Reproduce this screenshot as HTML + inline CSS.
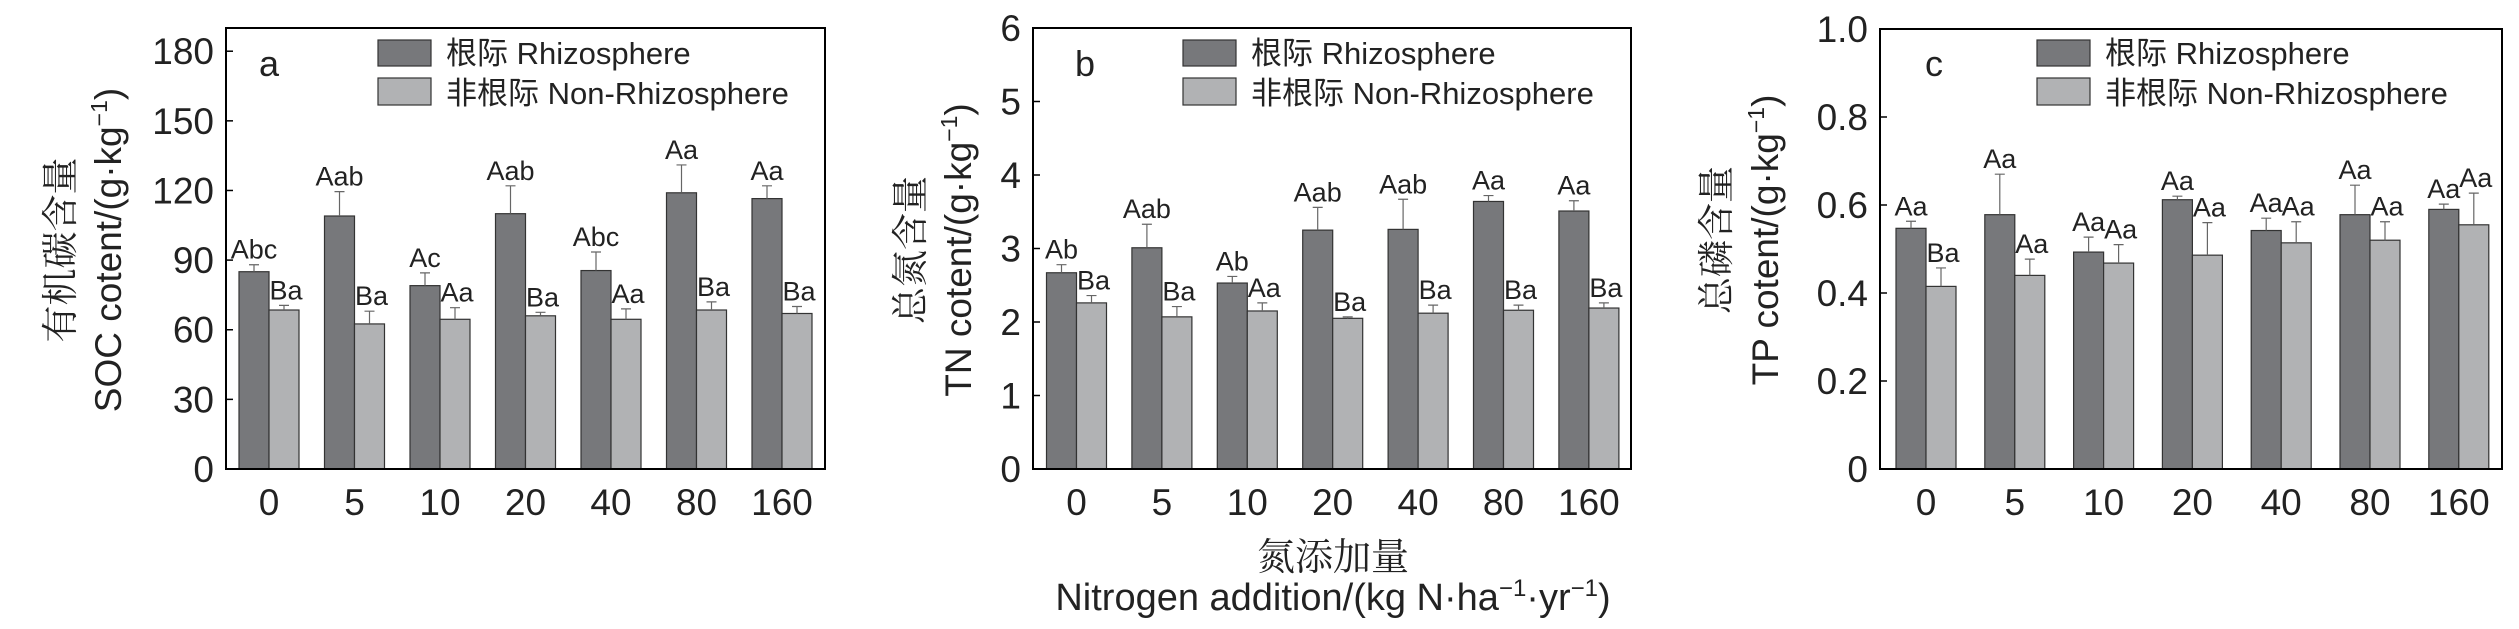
<!DOCTYPE html>
<html><head><meta charset="utf-8"><style>
html,body{margin:0;padding:0;background:#fff;}
svg{display:block;font-family:"Liberation Sans","Noto Sans CJK SC",sans-serif;}
</style></head><body>
<svg id="chart" width="2519" height="629" viewBox="0 0 2519 629" xmlns="http://www.w3.org/2000/svg"></svg>
<script>
const categories = ["0","5","10","20","40","80","160"];
const socRhizo = [85, 109, 79, 110, 85.5, 119, 116.5];
const socRhizoErr = [3, 10.5, 5.5, 12, 8, 12, 5.5];
const socNon = [68.5, 62.5, 64.5, 66, 64.5, 68.5, 67];
const socNonErr = [2, 5.5, 5, 1.5, 4.5, 3.5, 3];
const socRhizoLab = ["Abc","Aab","Ac","Aab","Abc","Aa","Aa"];
const socNonLab = ["Ba","Ba","Aa","Ba","Aa","Ba","Ba"];
const socTicks = ["0","30","60","90","120","150","180"];
const tnRhizo = [2.67, 3.01, 2.53, 3.25, 3.26, 3.64, 3.51];
const tnRhizoErr = [0.11, 0.32, 0.09, 0.31, 0.41, 0.08, 0.14];
const tnNon = [2.26, 2.07, 2.15, 2.05, 2.12, 2.16, 2.19];
const tnNonErr = [0.1, 0.14, 0.11, 0.02, 0.11, 0.07, 0.07];
const tnRhizoLab = ["Ab","Aab","Ab","Aab","Aab","Aa","Aa"];
const tnNonLab = ["Ba","Ba","Aa","Ba","Ba","Ba","Ba"];
const tnTicks = ["0","1","2","3","4","5","6"];
const tpRhizo = [0.547, 0.578, 0.493, 0.612, 0.542, 0.578, 0.59];
const tpRhizoErr = [0.016, 0.092, 0.034, 0.008, 0.028, 0.067, 0.012];
const tpNon = [0.415, 0.44, 0.468, 0.486, 0.514, 0.52, 0.555];
const tpNonErr = [0.042, 0.037, 0.042, 0.074, 0.048, 0.042, 0.072];
const tpRhizoLab = ["Aa","Aa","Aa","Aa","Aa","Aa","Aa"];
const tpNonLab = ["Ba","Aa","Aa","Aa","Aa","Aa","Aa"];
const tpTicks = ["0","0.2","0.4","0.6","0.8","1.0"];

const NS = "http://www.w3.org/2000/svg";
const svg = document.getElementById("chart");
function mk(tag, attrs, parent, text) {
  const e = document.createElementNS(NS, tag);
  for (const k in attrs) e.setAttribute(k, attrs[k]);
  if (text !== undefined) e.textContent = text;
  (parent || svg).appendChild(e);
  return e;
}

const panels = [
  {key:"soc", letter:"a", left:226, right:825, top:28, bottom:469, ymax:190, tickStep:30, first:269, step:85.5,
   r:socRhizo, re:socRhizoErr, n:socNon, ne:socNonErr, rl:socRhizoLab, nl:socNonLab, ticks:socTicks,
   cn:"有机碳含量", en:"SOC cotent/(g·kg", cnX:60, enX:108, legX:378},
  {key:"tn", letter:"b", left:1033, right:1631, top:28, bottom:469, ymax:6, tickStep:1, first:1076.5, step:85.4,
   r:tnRhizo, re:tnRhizoErr, n:tnNon, ne:tnNonErr, rl:tnRhizoLab, nl:tnNonLab, ticks:tnTicks,
   cn:"总氮含量", en:"TN cotent/(g·kg", cnX:910, enX:958, legX:1183},
  {key:"tp", letter:"c", left:1880, right:2502, top:29, bottom:469, ymax:1.0, tickStep:0.2, first:1926, step:88.8,
   r:tpRhizo, re:tpRhizoErr, n:tpNon, ne:tpNonErr, rl:tpRhizoLab, nl:tpNonLab, ticks:tpTicks,
   cn:"总磷含量", en:"TP cotent/(g·kg", cnX:1716, enX:1765, legX:2037}
];

const BW = 30;
panels.forEach(p => {
  const g = mk("g", {});
  
  
  const y = v => p.bottom - v / p.ymax * (p.bottom - p.top);
  const xc = i => p.first + i * p.step;

  p.ticks.forEach((t, i) => {
    const v = i * p.tickStep;
    const yy = y(v);
    const tk = mk("line", {x1:p.left, x2:p.left+7, y1:yy, y2:yy, stroke:"#000", "stroke-width":1.5}, g);
    
    
    const tl = mk("text", {x:p.left-12, y:yy+13, "text-anchor":"end", "font-size":37, fill:"#222"}, g, t);
    
    
  });

  categories.forEach((c, i) => {
    const cx = xc(i);
    const b1 = mk("rect", {x:cx-BW, y:y(p.r[i]), width:BW, height:p.bottom-y(p.r[i]), fill:"#77787b", stroke:"#333", "stroke-width":1.2}, g);
    
    
    const b2 = mk("rect", {x:cx, y:y(p.n[i]), width:BW, height:p.bottom-y(p.n[i]), fill:"#b1b2b4", stroke:"#333", "stroke-width":1.2}, g);
    
    
    [[cx-BW/2, p.r[i], p.re[i]], [cx+BW/2, p.n[i], p.ne[i]]].forEach(([ex, v, e]) => {
      const el = mk("path", {d:`M${ex},${y(v)}V${y(v+e)}M${ex-5},${y(v+e)}H${ex+5}`, stroke:"#666", "stroke-width":1.2, fill:"none"}, g);
      
      
    });
    const l1 = mk("text", {x:cx-BW/2, y:y(p.r[i]+p.re[i])-6, "text-anchor":"middle", "font-size":27, fill:"#222"}, g, p.rl[i]);
    
    
    const l2 = mk("text", {x:cx+BW/2+2, y:y(p.n[i]+p.ne[i])-6, "text-anchor":"middle", "font-size":27, fill:"#222"}, g, p.nl[i]);
    
    
    const xl = mk("text", {x:cx, y:515, "text-anchor":"middle", "font-size":37, fill:"#222"}, g, c);
    
    
  });

  const frame = mk("rect", {x:p.left, y:p.top, width:p.right-p.left, height:p.bottom-p.top, fill:"none", stroke:"#000", "stroke-width":2}, g);
  
  

  const lt = mk("text", {x:p.left + (p.key==="soc"?33:p.key==="tn"?42:45), y:76, "font-size":36, fill:"#222"}, g, p.letter);
  
  

  const lg = mk("g", {}, g);
  
  
  const s1 = mk("rect", {x:p.legX, y:40, width:53, height:26, fill:"#77787b", stroke:"#333", "stroke-width":1.2}, lg);
  
  
  const s2 = mk("rect", {x:p.legX, y:78, width:53, height:27, fill:"#b1b2b4", stroke:"#333", "stroke-width":1.2}, lg);
  
  
  const t1 = mk("text", {x:p.legX+68, y:64, "font-size":31, fill:"#222"}, lg, "根际 Rhizosphere");
  
  
  const t2 = mk("text", {x:p.legX+68, y:104, "font-size":31, fill:"#222"}, lg, "非根际 Non-Rhizosphere");
  
  

  const yc = p.key==="tp" ? 240 : 250;
  const cnT = mk("text", {x:0, y:0, transform:`translate(${p.cnX+13},${yc}) rotate(-90)`, "text-anchor":"middle", "font-size":37, fill:"#222", "font-family":"'Noto Serif CJK SC','Noto Sans CJK SC',serif"}, g, p.cn);
  
  
  const enT = mk("text", {x:0, y:0, transform:`translate(${p.enX+13},${yc}) rotate(-90)`, "text-anchor":"middle", "font-size":37, fill:"#222"}, g);
  
  
  enT.appendChild(document.createTextNode(p.en));
  mk("tspan", {"font-size":23, dy:-14}, enT, "−1");
  mk("tspan", {dy:14}, enT, ")");
});

const xt1 = mk("text", {x:1333, y:570, "text-anchor":"middle", "font-size":38, fill:"#222", "font-family":"'Noto Serif CJK SC','Noto Sans CJK SC',serif"}, svg, "氮添加量");


const xt2 = mk("text", {x:1333, y:610, "text-anchor":"middle", "font-size":38, fill:"#222"}, svg);


xt2.appendChild(document.createTextNode("Nitrogen addition/(kg N·ha"));
mk("tspan", {"font-size":24, dy:-14}, xt2, "−1");
mk("tspan", {dy:14}, xt2, "·yr");
mk("tspan", {"font-size":24, dy:-14}, xt2, "−1");
mk("tspan", {dy:14}, xt2, ")");
</script>
</body></html>
